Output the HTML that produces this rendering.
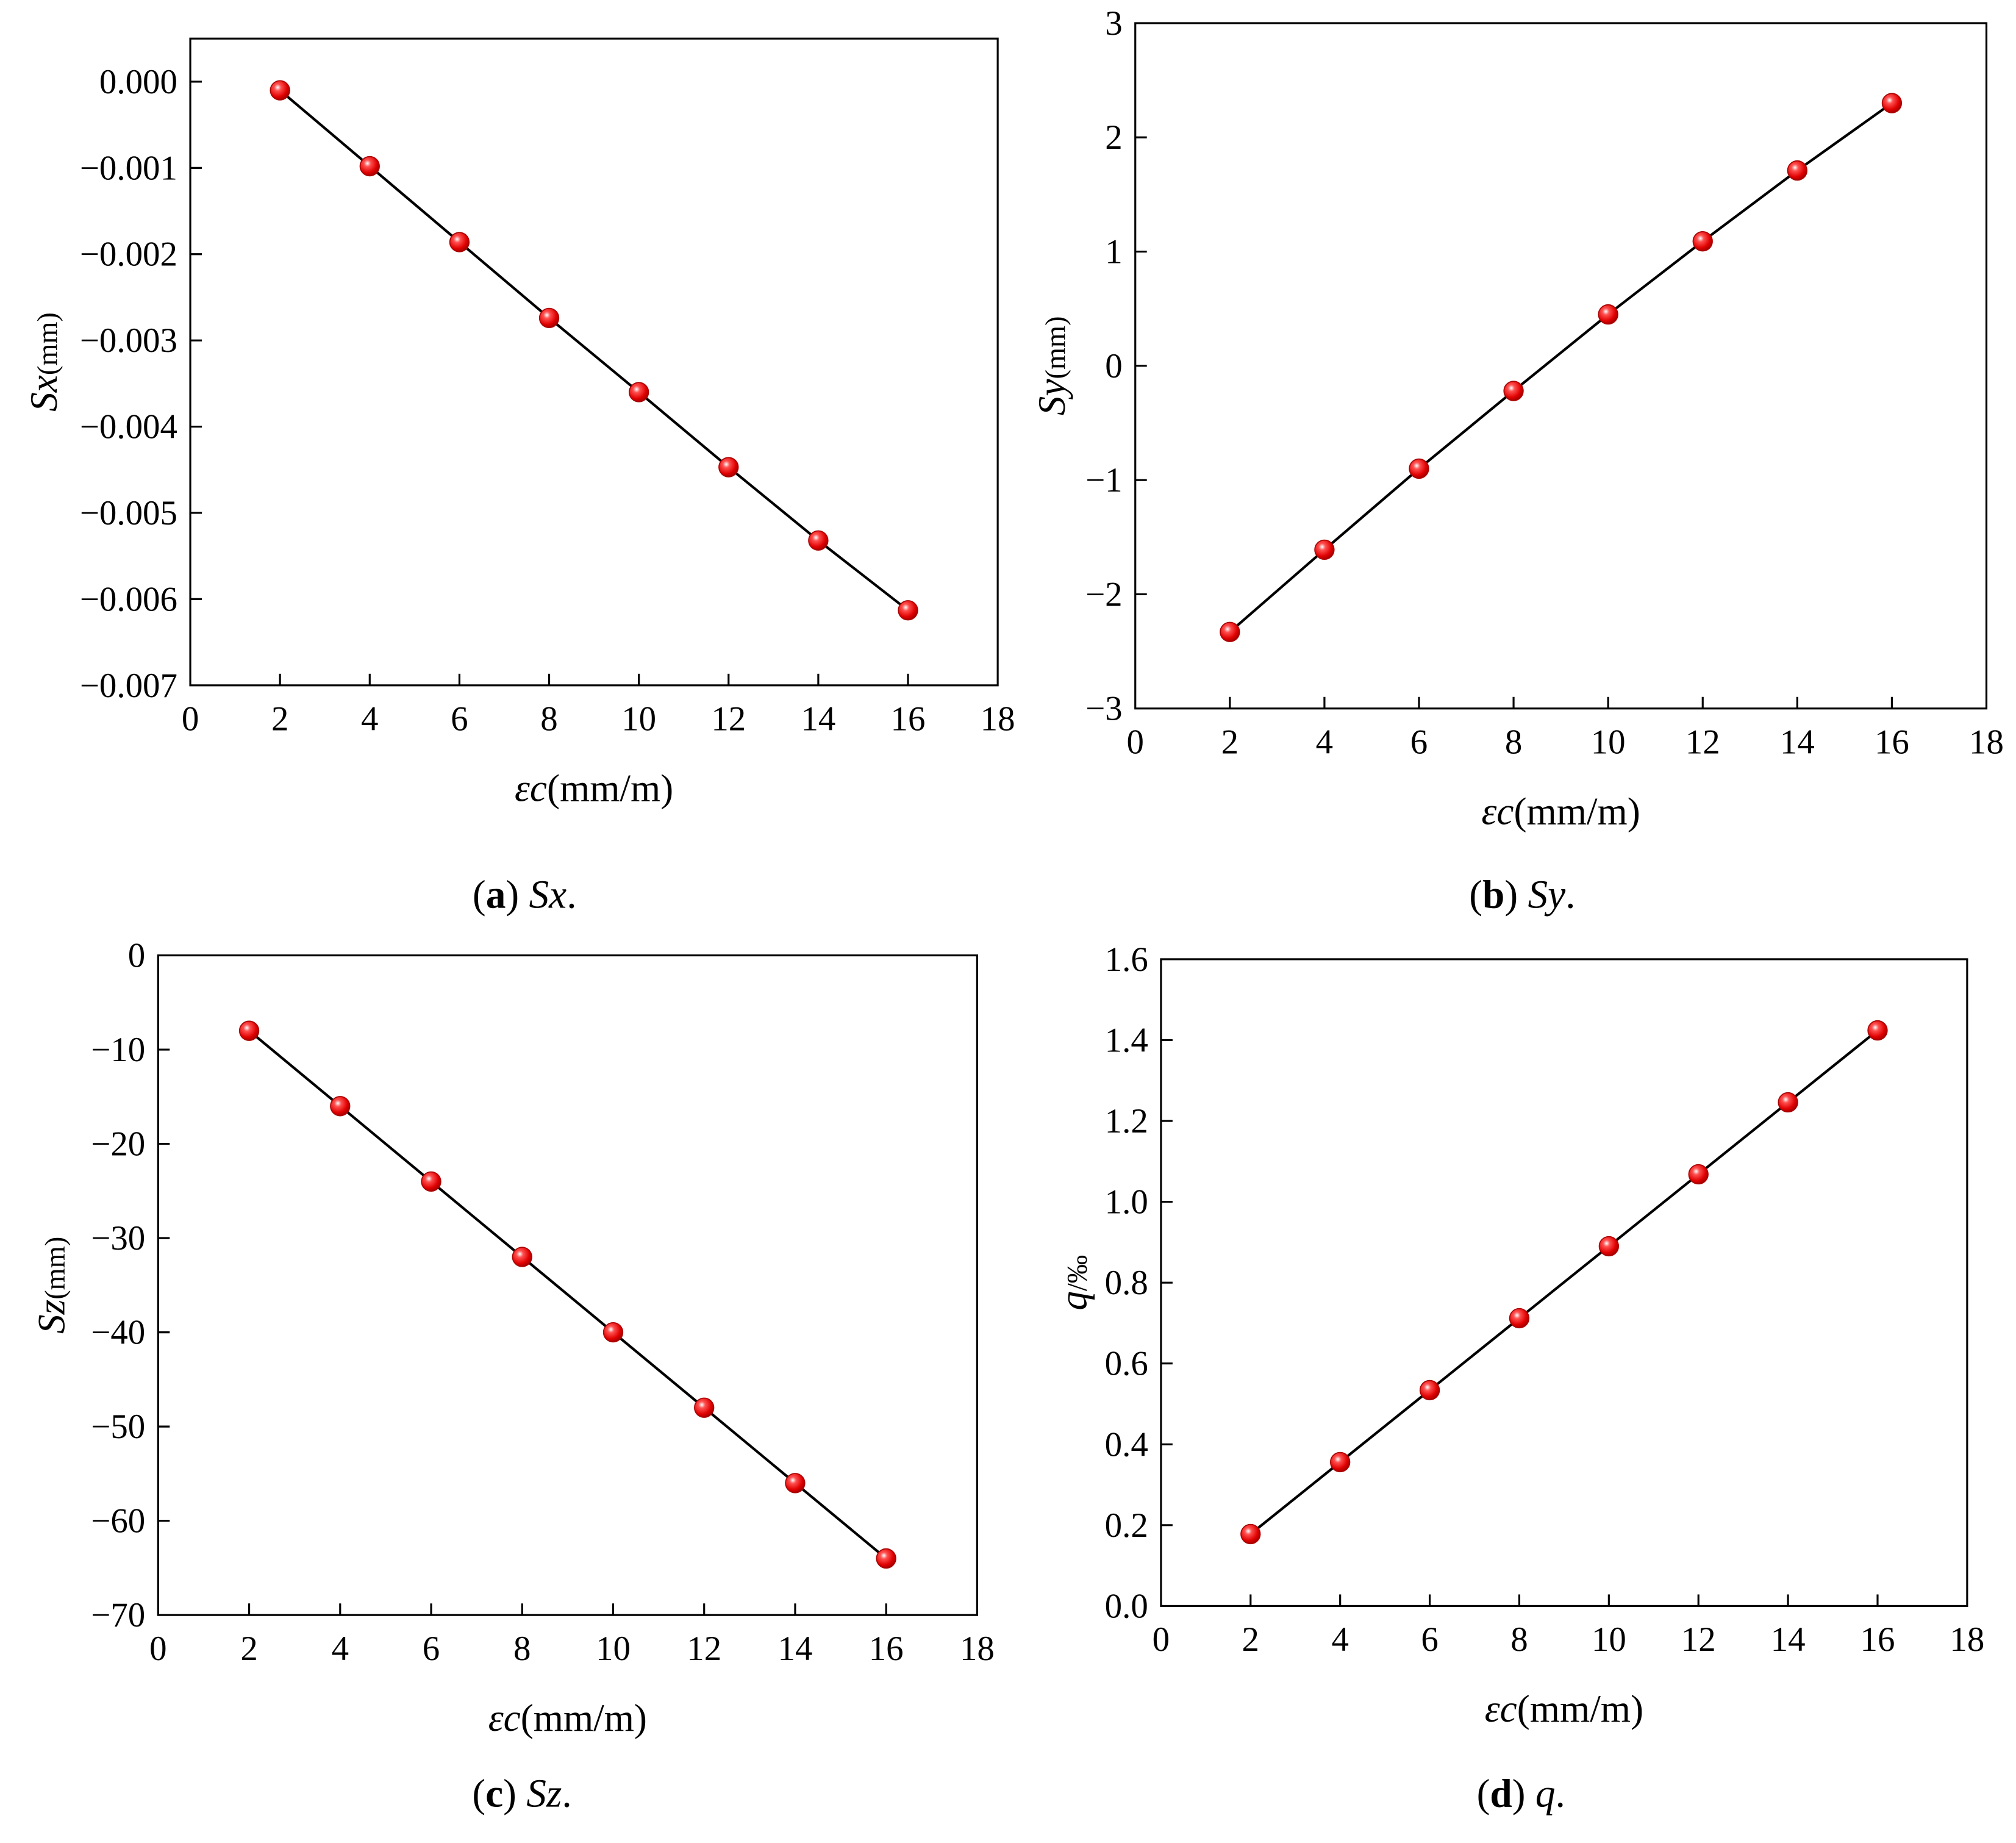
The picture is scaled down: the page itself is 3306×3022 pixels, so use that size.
<!DOCTYPE html>
<html><head><meta charset="utf-8"><style>
html,body{margin:0;padding:0;background:#fff}
svg{display:block}
text{font-family:"Liberation Serif",serif;fill:#000}
</style></head><body>
<svg id="fig" width="3306" height="3022" viewBox="0 0 1568 1433.3" xmlns="http://www.w3.org/2000/svg">
<defs>
<radialGradient id="ball" cx="0.38" cy="0.35" r="0.7">
<stop offset="0" stop-color="#fff"/><stop offset="0.25" stop-color="#ff5050"/><stop offset="0.7" stop-color="#e00000"/><stop offset="1" stop-color="#900"/>
</radialGradient>
</defs>
</svg>
<script>
const xValues=[2,4,6,8,10,12,14,16];
const sxValues=[-0.0001,-0.00098,-0.00186,-0.00274,-0.0036,-0.00447,-0.00532,-0.00613];
const syValues=[-2.33,-1.61,-0.9,-0.22,0.45,1.09,1.71,2.3];
const szValues=[-8,-16,-24,-32,-40,-48,-56,-64];
const qValues=[0.178,0.356,0.534,0.712,0.89,1.068,1.246,1.424];
const xTicks=[0,2,4,6,8,10,12,14,16,18];
const sxTicks=[0,-0.001,-0.002,-0.003,-0.004,-0.005,-0.006,-0.007];
const sxTickLabels=["0.000","\u22120.001","\u22120.002","\u22120.003","\u22120.004","\u22120.005","\u22120.006","\u22120.007"];
const syTicks=[3,2,1,0,-1,-2,-3];
const szTicks=[0,-10,-20,-30,-40,-50,-60,-70];
const qTicks=[0,0.2,0.4,0.6,0.8,1.0,1.2,1.4,1.6];

const svg=document.getElementById('fig');
const NS='http://www.w3.org/2000/svg';
function mk(tag,attrs,parent){const e=document.createElementNS(NS,tag);for(const k in attrs)e.setAttribute(k,attrs[k]);(parent||svg).appendChild(e);return e;}
function fmt(v,d){const s=Math.abs(v).toFixed(d);return (v<0?'\u2212':'')+s;}

function panel(o){
  const g=mk('g',{});
  
  
  const X=v=>o.L+(v-0)/(18-0)*(o.R-o.L);
  const Y=v=>o.B-(v-o.ymin)/(o.ymax-o.ymin)*(o.B-o.T);
  const box=mk('rect',{x:o.L,y:o.T,width:o.R-o.L,height:o.B-o.T,fill:'none',stroke:'#000','stroke-width':1.5},g);
  
  
  xTicks.forEach(t=>{
    if(t>0&&t<18){const l=mk('line',{x1:X(t),x2:X(t),y1:o.B,y2:o.B-9,stroke:'#000','stroke-width':1.5},g);
    }
    const tx=mk('text',{x:X(t),y:o.B+35,'font-size':27,'text-anchor':'middle'},g);
    
    tx.textContent=t;
  });
  o.ticks.forEach((t,i)=>{
    const y=Y(t);
    if(Math.abs(y-o.T)>1&&Math.abs(y-o.B)>1){const l=mk('line',{x1:o.L,x2:o.L+9,y1:y,y2:y,stroke:'#000','stroke-width':1.5},g);
    }
    const tx=mk('text',{x:o.L-10,y:y+9,'font-size':27,'text-anchor':'end'},g);
    
    tx.textContent=o.labels?o.labels[i]:fmt(t,o.dec);
  });
  const pts=xValues.map((x,i)=>X(x)+','+Y(o.vals[i])).join(' ');
  const pl=mk('polyline',{points:pts,fill:'none',stroke:'#000','stroke-width':2},g);
  
  xValues.forEach((x,i)=>{
    const c=mk('circle',{cx:X(x),cy:Y(o.vals[i]),r:7.5,fill:'url(#ball)',stroke:'#a00','stroke-width':0.8},g);
    
  });
  const cx=(o.L+o.R)/2;
  const xt=mk('text',{x:cx,y:o.B+90,'font-size':30,'text-anchor':'middle'},g);
  
  xt.innerHTML='<tspan font-style="italic">εc</tspan>(mm/m)';
  const ym=(o.T+o.B)/2;
  const yt=mk('text',{x:0,y:0,'font-size':30,'text-anchor':'middle',transform:`translate(${o.yx},${ym}) rotate(-90)`},g);
  
  yt.innerHTML=o.ytitle;
  const cap=mk('text',{x:o.capX,y:o.capY,'font-size':31,'text-anchor':'middle'},g);
  
  cap.innerHTML=o.cap;
}
panel({name:'panel-a-sx',L:148,R:776,T:30,B:533,ymin:-0.007,ymax:0.0005,ticks:sxTicks,labels:sxTickLabels,vals:sxValues,yx:44,
  ytitle:'<tspan font-style="italic">Sx</tspan><tspan font-size="22">(mm)</tspan>',capX:408,capY:706,cap:'(<tspan font-weight="bold">a</tspan>) <tspan font-style="italic">Sx</tspan>.'});
panel({name:'panel-b-sy',L:883,R:1545,T:18,B:551,ymin:-3,ymax:3,ticks:syTicks,dec:0,vals:syValues,yx:828,
  ytitle:'<tspan font-style="italic">Sy</tspan><tspan font-size="22">(mm)</tspan>',capX:1184,capY:706,cap:'(<tspan font-weight="bold">b</tspan>) <tspan font-style="italic">Sy</tspan>.'});
panel({name:'panel-c-sz',L:123,R:760,T:743,B:1256,ymin:-70,ymax:0,ticks:szTicks,dec:0,vals:szValues,yx:50,
  ytitle:'<tspan font-style="italic">Sz</tspan><tspan font-size="22">(mm)</tspan>',capX:406,capY:1405,cap:'(<tspan font-weight="bold">c</tspan>) <tspan font-style="italic">Sz</tspan>.'});
panel({name:'panel-d-q',L:903,R:1530,T:746,B:1249,ymin:0,ymax:1.6,ticks:qTicks,dec:1,vals:qValues,yx:845,
  ytitle:'<tspan font-style="italic">q</tspan><tspan font-size="22">/‰</tspan>',capX:1183,capY:1405,cap:'(<tspan font-weight="bold">d</tspan>) <tspan font-style="italic">q</tspan>.'});
</script>
</body></html>
